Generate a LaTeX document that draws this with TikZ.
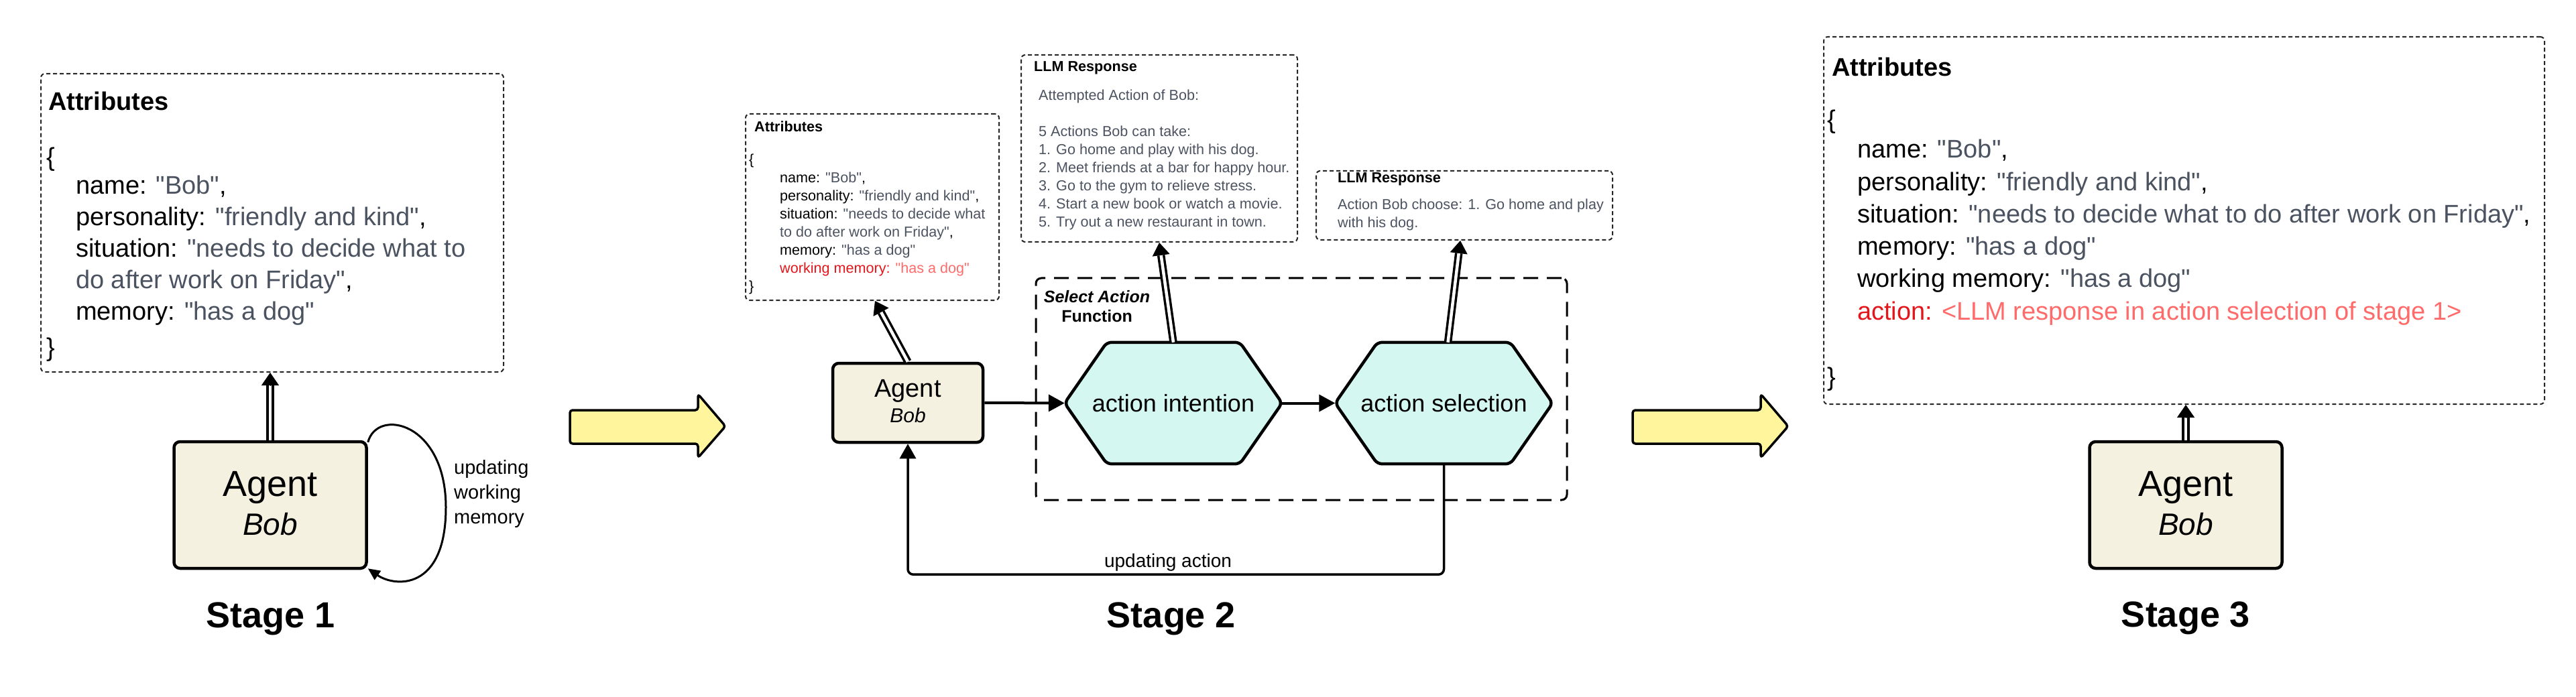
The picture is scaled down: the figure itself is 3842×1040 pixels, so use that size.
\documentclass[tikz,border=0pt]{standalone}
\usepackage{fontspec}
\setmainfont{Liberation Sans}[Ligatures=TeXOff]
\usetikzlibrary{arrows.meta,calc,backgrounds}
\definecolor{valc}{HTML}{4B5260}
\definecolor{redk}{HTML}{E3161C}
\definecolor{redv}{HTML}{FF6A6A}
\definecolor{agentfill}{HTML}{F5F1E1}
\definecolor{hexfill}{HTML}{D5F7F2}
\definecolor{yellowfill}{HTML}{FFF59C}
\newcommand\val[1]{\textcolor{valc}{#1}}
\newcommand\dblarrow[2]{%
  \draw[dblshaft] (#1) -- ($(#2)!19pt!(#1)$);
  \draw[dbltip] ($(#2)!19pt!(#1)$) -- (#2);}
\begin{document}
\begin{tikzpicture}[x=1pt,y=-1pt,
  ln/.style={inner sep=0pt, anchor=base west},
  f38/.style={font=\fontsize{38}{46}\selectfont},
  f22/.style={font=\fontsize{21.6}{27}\selectfont},
  attrbox/.style={draw=black!85, line width=2pt, dash pattern=on 6pt off 4pt, rounded corners=6pt, inner sep=0pt},
  agentbox/.style={draw, line width=4.5pt, fill=agentfill, rounded corners=9pt, inner sep=0pt},
  hexbox/.style={inner sep=0pt, minimum width=324pt, minimum height=181pt, font=\fontsize{36}{42}\selectfont},
  hexshape/.style={draw, line width=4.5pt, fill=hexfill, rounded corners=7pt, line join=round},
  selboxsty/.style={draw, line width=3pt, dash pattern=on 22pt off 13pt, rounded corners=8pt, inner sep=0pt},
  dblshaft/.style={draw, double=white, double distance=4.5pt, line width=3.5pt},
  dbltip/.style={line width=1pt, -{Triangle[length=19pt,width=26pt]}},
  flow/.style={line width=4pt, -{Triangle[length=24pt,width=25pt]}},
  fb/.style={line width=3.5pt, rounded corners=8pt, -{Triangle[length=22pt,width=24pt]}},
  loopar/.style={line width=3pt, -{Triangle[length=18pt,width=16pt]}},
  yarrow/.style={draw, fill=yellowfill, line width=3.5pt, rounded corners=4pt, line join=round},
  stagelbl/.style={font=\fontsize{54}{60}\selectfont\bfseries, anchor=base, inner sep=0pt},
]
\useasboundingbox (0,0) rectangle (3842,1040);

% ================= Stage 1 =================
\node[attrbox, minimum width=690pt, minimum height=445pt] (attr1) at (406,332.5) {};
\node[ln, f38] (s1title) at (72,165) {\bfseries Attributes};
\node[ln, f38] (s1ob) at (69,248) {\{};
\foreach \t [count=\i] in {{name: \val{"Bob"},},{personality: \val{"friendly and kind"},},{situation: \val{"needs to decide what to}},{\val{do after work on Friday"},},{memory: \val{"has a dog"}}}
  \node[ln, f38] (s1l\i) at (113,{290+46.8*(\i-1)}) {\t};
\node[ln, f38] (s1cb) at (69,531) {\}};

\node[agentbox, minimum width=287pt, minimum height=189pt] (agent1) at (403,753.5) {};
\node[font=\fontsize{54}{60}\selectfont, anchor=base, inner sep=0pt] (a1name) at (403,740) {Agent};
\node[font=\fontsize{46}{52}\selectfont\itshape, anchor=base, inner sep=0pt] (a1bob) at (403,798) {Bob};

\coordinate (a1t) at (attr1.south -| agent1.north);
\dblarrow{agent1.north}{a1t}

\draw[loopar] ([yshift=-3pt]agent1.north east) .. controls +(14,-52) and +(0,-127) .. (665,757)
  .. controls +(0,125) and +(40,28) .. ([yshift=2pt]agent1.south east);
\foreach \t [count=\i] in {updating,working,memory}
  \node[ln, font=\fontsize{29}{37}\selectfont] (loopl\i) at (677,{707+37*(\i-1)}) {\t};

\node[stagelbl] (stage1) at (404,936) {Stage 1};

% yellow arrow 1
\draw[yarrow] (850,612) -- (1041,612) -- (1041,588) -- (1082,636) -- (1041,683) -- (1041,662) -- (850,662) -- cycle;

% ================= Stage 2 =================
\node[attrbox, minimum width=378pt, minimum height=278pt] (attr2) at (1301,309) {};
\node[ln, f22] (s2title) at (1125,197) {\bfseries Attributes};
\node[ln, f22] (s2ob) at (1117,246) {\{};
\foreach \t [count=\i] in {{name: \val{"Bob"},},{personality: \val{"friendly and kind"},},{situation: \val{"needs to decide what}},{\val{to do after work on Friday"},},{memory: \val{"has a dog"}},{\textcolor{redk}{working memory:} \textcolor{redv}{"has a dog"}}}
  \node[ln, f22] (s2l\i) at (1163,{273+27*(\i-1)}) {\t};
\node[ln, f22] (s2cb) at (1117,435) {\}};

\node[attrbox, minimum width=412pt, minimum height=279pt] (llm1) at (1729,221.5) {};
\node[ln, f22] (llm1title) at (1542,107) {\bfseries LLM Response};
\node[ln, f22] (llm1l0) at (1549,150) {\val{Attempted Action of Bob:}};
\foreach \t [count=\i] in {{5 Actions Bob can take:},{1. Go home and play with his dog.},{2. Meet friends at a bar for happy hour.},{3. Go to the gym to relieve stress.},{4. Start a new book or watch a movie.},{5. Try out a new restaurant in town.}}
  \node[ln, f22] (llm1l\i) at (1549,{204+27*(\i-1)}) {\val{\t}};

\node[attrbox, minimum width=442pt, minimum height=103pt] (llm2) at (2184,306.5) {};
\node[ln, f22] (llm2title) at (1995,273) {\bfseries LLM Response};
\node[ln, f22] (llm2l1) at (1995,313) {\val{Action Bob choose: 1. Go home and play}};
\node[ln, f22] (llm2l2) at (1995,340) {\val{with his dog.}};

\node[selboxsty, minimum width=792pt, minimum height=331pt] (selbox) at (1941,580.5) {};
\node[font=\fontsize{25}{29}\selectfont\bfseries\itshape, anchor=base, inner sep=0pt] (seltitle1) at (1636,451) {Select Action};
\node[font=\fontsize{25}{29}\selectfont\bfseries, anchor=base, inner sep=0pt] (seltitle2) at (1636,480) {Function};

\node[agentbox, minimum width=224pt, minimum height=118pt] (agent2) at (1354,601) {};
\node[font=\fontsize{38}{44}\selectfont, anchor=base, inner sep=0pt] (a2name) at (1354,592) {Agent};
\node[font=\fontsize{30}{36}\selectfont\itshape, anchor=base, inner sep=0pt] (a2bob) at (1354,630) {Bob};

\node[hexbox] (hex1) at (1750,601.5) {action intention};
\node[hexbox] (hex2) at (2153.5,601.5) {action selection};
\begin{scope}[on background layer]
  \foreach \h in {hex1,hex2}
    \draw[hexshape] (\h.west) -- ([xshift=63pt]\h.north west) -- ([xshift=-63pt]\h.north east) -- (\h.east)
      -- ([xshift=-63pt]\h.south east) -- ([xshift=63pt]\h.south west) -- cycle;
\end{scope}

\draw[flow] (agent2.east) -- (hex1.west);
\draw[flow] (hex1.east) -- (hex2.west);
\draw[fb] (hex2.south) -- ++(0,165) -| (agent2.south);
\node[anchor=base, inner sep=0pt, font=\fontsize{28}{34}\selectfont] (updact) at (1742,846) {updating action};

\coordinate (a2t) at ([xshift=4pt]attr2.south);
\dblarrow{agent2.north}{a2t}
\coordinate (h1t) at (llm1.south);
\dblarrow{hex1.north}{h1t}
\coordinate (h2s) at ([xshift=6pt]hex2.north);
\coordinate (h2t) at ([xshift=-6pt]llm2.south);
\dblarrow{h2s}{h2t}

\node[stagelbl] (stage2) at (1747,936) {Stage 2};

% yellow arrow 2
\draw[yarrow] (2435,612) -- (2626,612) -- (2626,588) -- (2667,636) -- (2626,683) -- (2626,662) -- (2435,662) -- cycle;

% ================= Stage 3 =================
\node[attrbox, minimum width=1075pt, minimum height=548pt] (attr3) at (3257.5,329) {};
\node[ln, f38] (s3title) at (2732,114) {\bfseries Attributes};
\node[ln, f38] (s3ob) at (2725,192) {\{};
\foreach \t [count=\i] in {{name: \val{"Bob"},},{personality: \val{"friendly and kind"},},{situation: \val{"needs to decide what to do after work on Friday"},},{memory: \val{"has a dog"}},{working memory: \val{"has a dog"}},{\textcolor{redk}{action:} \textcolor{redv}{<LLM response in action selection of stage 1>}}}
  \node[ln, f38] (s3l\i) at (2770,{236+48.2*(\i-1)}) {\t};
\node[ln, f38] (s3cb) at (2725,575) {\}};

\node[agentbox, minimum width=287pt, minimum height=189pt] (agent3) at (3260,753.5) {};
\node[font=\fontsize{54}{60}\selectfont, anchor=base, inner sep=0pt] (a3name) at (3260,740) {Agent};
\node[font=\fontsize{46}{52}\selectfont\itshape, anchor=base, inner sep=0pt] (a3bob) at (3260,798) {Bob};

\coordinate (a3t) at (attr3.south -| agent3.north);
\dblarrow{agent3.north}{a3t}

\node[stagelbl] (stage3) at (3260,935) {Stage 3};
\end{tikzpicture}
\end{document}
